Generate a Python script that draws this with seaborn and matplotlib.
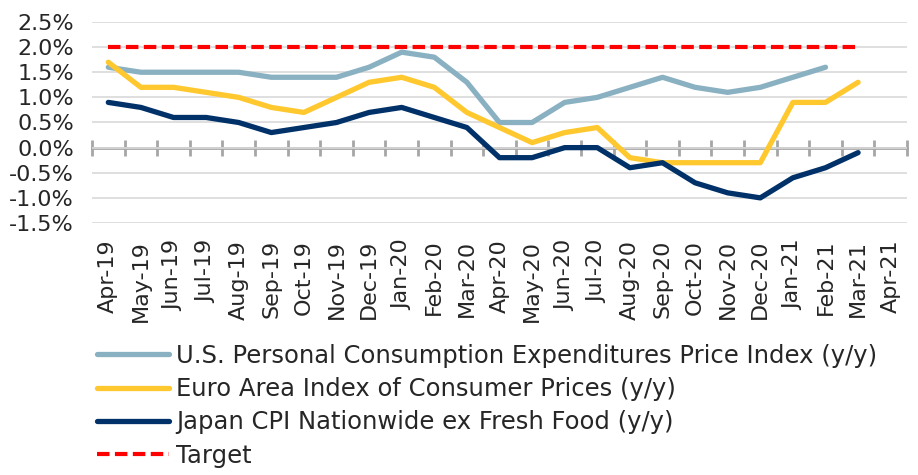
import matplotlib
matplotlib.use('Agg')
import matplotlib.pyplot as plt
import seaborn as sns
import numpy as np
import pandas as pd
from matplotlib.ticker import FuncFormatter, MultipleLocator

# Data (y/y %)
months = ['Apr-19', 'May-19', 'Jun-19', 'Jul-19', 'Aug-19', 'Sep-19', 'Oct-19',
          'Nov-19', 'Dec-19', 'Jan-20', 'Feb-20', 'Mar-20', 'Apr-20', 'May-20',
          'Jun-20', 'Jul-20', 'Aug-20', 'Sep-20', 'Oct-20', 'Nov-20', 'Dec-20',
          'Jan-21', 'Feb-21', 'Mar-21', 'Apr-21']
us_pce = [1.6, 1.5, 1.5, 1.5, 1.5, 1.4, 1.4, 1.4, 1.6, 1.9, 1.8, 1.3, 0.5,
          0.5, 0.9, 1.0, 1.2, 1.4, 1.2, 1.1, 1.2, 1.4, 1.6, None, None]
euro_hicp = [1.7, 1.2, 1.2, 1.1, 1.0, 0.8, 0.7, 1.0, 1.3, 1.4, 1.2, 0.7, 0.4,
             0.1, 0.3, 0.4, -0.2, -0.3, -0.3, -0.3, -0.3, 0.9, 0.9, 1.3, None]
japan_cpi = [0.9, 0.8, 0.6, 0.6, 0.5, 0.3, 0.4, 0.5, 0.7, 0.8, 0.6, 0.4, -0.2,
             -0.2, 0.0, 0.0, -0.4, -0.3, -0.7, -0.9, -1.0, -0.6, -0.4, -0.1, None]
target = [2.0] * 24 + [None]

labels = ['U.S. Personal Consumption Expenditures Price Index (y/y)',
          'Euro Area Index of Consumer Prices (y/y)',
          'Japan CPI Nationwide ex Fresh Food (y/y)',
          'Target']
colors = ['#8AB1C2', '#FFC82E', '#003168', '#FF0000']

df = pd.DataFrame({'x': np.arange(len(months)),
                   labels[0]: us_pce, labels[1]: euro_hicp,
                   labels[2]: japan_cpi, labels[3]: target}).astype(float)

sns.set_style("white")
plt.rcParams['font.family'] = ['DejaVu Sans']

fig = plt.figure(figsize=(9.18, 4.75), dpi=100)
ax = fig.add_axes([92 / 918, 1 - 223 / 475, (907 - 92) / 918, (223 - 22) / 475])

for lab, col in zip(labels, colors):
    if lab == 'Target':
        sns.lineplot(data=df, x='x', y=lab, ax=ax, color=col, linewidth=3,
                     linestyle=(0, (3, 1.3)), label=lab)
    else:
        sns.lineplot(data=df, x='x', y=lab, ax=ax, color=col, linewidth=3.8,
                     label=lab, solid_capstyle='round')

ax.set_ylim(-1.5, 2.5)
ax.set_xlim(-0.5, len(months) - 0.5)
ax.yaxis.set_major_locator(MultipleLocator(0.5))
ax.yaxis.set_major_formatter(FuncFormatter(lambda v, p: f'{v:.1f}%'))
ax.grid(axis='y', color='#D9D9D9', linewidth=1.2)
ax.set_axisbelow(True)
for s in ax.spines.values():
    s.set_visible(False)

ax.set_xticks(np.arange(len(months)))
ax.set_xticklabels(months, rotation=90, fontsize=16)
ax.tick_params(axis='x', length=0, pad=12)
ax.tick_params(axis='y', length=0, labelsize=16, pad=13)
ax.set_xlabel('')
ax.set_ylabel('')

# zero axis with tick marks at category boundaries
sec = ax.secondary_xaxis(1.5 / 4.0)
sec.set_xticks(np.arange(len(months) + 1) - 0.5)
sec.set_xticklabels([])
sec.tick_params(axis='x', direction='inout', length=12, width=2, color='#A6A6A6')
sec.spines['bottom'].set_color('#A6A6A6')
sec.spines['bottom'].set_linewidth(2)

ax.legend(loc='upper left', bbox_to_anchor=(97 / 918, 1 - 344 / 475),
          bbox_transform=fig.transFigure, frameon=False, fontsize=17.5,
          handlelength=2.95, handletextpad=0.3, labelspacing=0.38,
          borderaxespad=0, borderpad=0)

fig.savefig('out.png', dpi=100, facecolor='white')
